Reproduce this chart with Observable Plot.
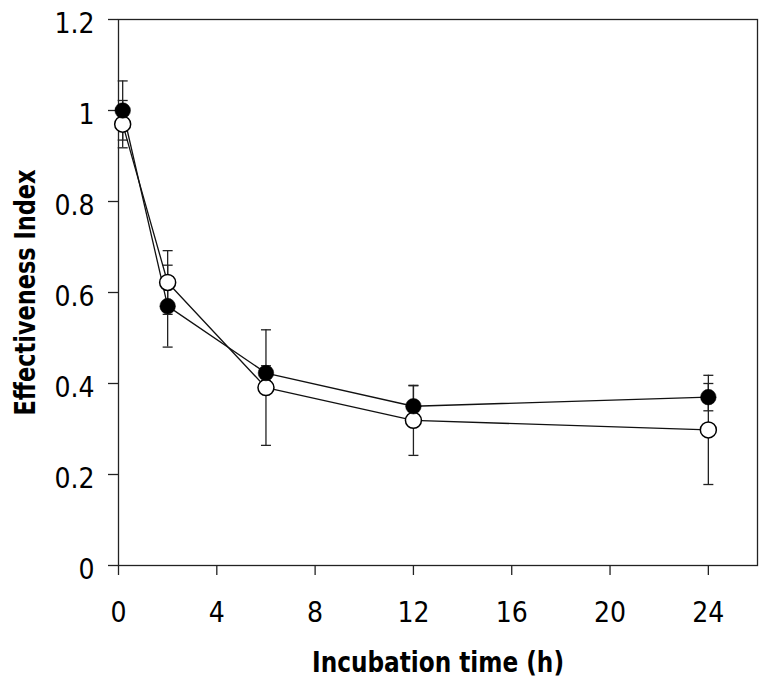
<!DOCTYPE html>
<html><head><meta charset="utf-8">
<script src="https://cdn.jsdelivr.net/npm/d3@7"></script>
<script src="https://cdn.jsdelivr.net/npm/@observablehq/plot@0.6"></script>
<style>body{margin:0;background:#fff}</style>
</head><body><div id="chart"></div>
<script>
const times = [0.17, 2, 6, 12, 24];
const filledMean = [1.0, 0.57, 0.423, 0.35, 0.37];
const filledErr = [0.065, 0.09, 0.016, 0.045, 0.03];
const openMean = [0.97, 0.622, 0.391, 0.319, 0.298];
const openErr = [0.052, 0.07, 0.127, 0.077, 0.12];
const xTicks = [0, 4, 8, 12, 16, 20, 24];
const yTicks = [0, 0.2, 0.4, 0.6, 0.8, 1, 1.2];
const xLabel = "Incubation time (h)";
const yLabel = "Effectiveness Index";

const rows = (series, means, errs) => times.map((t, i) => ({series, t, m: means[i], lo: means[i] - errs[i], hi: means[i] + errs[i]}));
const filled = rows("filled", filledMean, filledErr);
const open = rows("open", openMean, openErr);
const all = open.concat(filled);
const capSymbol = {draw(ctx) { ctx.moveTo(-5, 0); ctx.lineTo(5, 0); }};
const ink = "#222";

const chart = Plot.plot({
  width: 770, height: 686,
  marginLeft: 118, marginRight: 13, marginTop: 19, marginBottom: 121,
  x: {domain: [0, 26]},
  y: {domain: [0, 1.2]},
  style: {fontFamily: "'DejaVu Sans Condensed', 'DejaVu Sans', sans-serif", fontSize: "28px", color: "#000", background: "#fff"},
  marks: [
    Plot.frame({stroke: ink, strokeWidth: 1.3}),
    Plot.axisX({ticks: xTicks, tickSize: 10, tickPadding: 27, tickFormat: d => String(d), stroke: ink, strokeWidth: 1.3,
      label: xLabel, labelAnchor: "center", labelOffset: 106, labelArrow: "none"}),
    Plot.axisY({ticks: yTicks, tickSize: 10, tickPadding: 14, tickFormat: d => String(d), stroke: ink, strokeWidth: 1.3,
      label: yLabel, labelAnchor: "center", labelOffset: 103, labelArrow: "none"}),
    Plot.ruleX(all, {x: "t", y1: "lo", y2: "hi", stroke: ink, strokeWidth: 1.3}),
    Plot.dot(all, {x: "t", y: "lo", symbol: capSymbol, stroke: ink, strokeWidth: 1.3}),
    Plot.dot(all, {x: "t", y: "hi", symbol: capSymbol, stroke: ink, strokeWidth: 1.3}),
    Plot.line(open, {x: "t", y: "m", stroke: "#111", strokeWidth: 1.3}),
    Plot.line(filled, {x: "t", y: "m", stroke: "#111", strokeWidth: 1.3}),
    Plot.dot(open, {x: "t", y: "m", r: 8, fill: "white", stroke: "#000", strokeWidth: 1.5}),
    Plot.dot(filled, {x: "t", y: "m", r: 7.8, fill: "#000", stroke: "#000", strokeWidth: 0.5})
  ]
});
document.getElementById("chart").appendChild(chart);

// style adjustments
chart.querySelectorAll('g[aria-label="y-axis tick label"]').forEach(g => {
  g.setAttribute("transform", (g.getAttribute("transform") || "") + " translate(0,5)");
});
const xl = chart.querySelector('g[aria-label="x-axis label"] text');
const yl = chart.querySelector('g[aria-label="y-axis label"] text');
[xl, yl].forEach(t => {
  if (t) {
    t.textContent = t.textContent.replace(/\s*[→↑]\s*$/, "");
    t.setAttribute("font-weight", "bold");
    t.setAttribute("font-size", "28");
    t.setAttribute("lengthAdjust", "spacingAndGlyphs");
  }
});
if (xl) xl.setAttribute("textLength", 252);
if (yl) yl.setAttribute("textLength", 246);
</script>
</body></html>
